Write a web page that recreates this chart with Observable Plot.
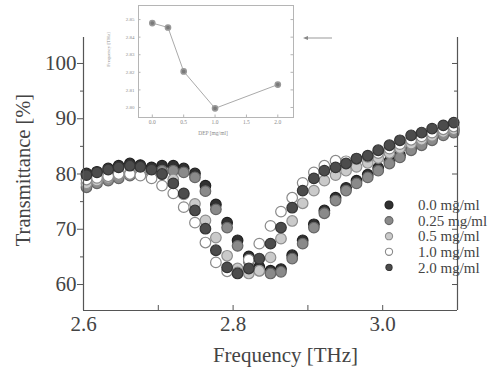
<!DOCTYPE html>
<html><head><meta charset="utf-8">
<script src="https://cdn.jsdelivr.net/npm/d3@7"></script>
<script src="https://cdn.jsdelivr.net/npm/@observablehq/plot@0.6"></script>
<style>
body{margin:0;background:#fff;}
#wrap{position:relative;width:494px;height:369px;overflow:hidden;font-family:"Liberation Serif","Times New Roman",serif;}
#wrap svg{position:absolute;}
</style></head><body><div id="wrap"></div>
<script>
// ---------- data ----------
const freq = [2.604,2.618,2.633,2.647,2.662,2.676,2.691,2.705,2.720,2.734,2.749,2.763,2.777,2.792,2.806,2.821,2.835,2.850,2.864,2.879,2.893,2.908,2.922,2.937,2.951,2.965,2.980,2.994,3.009,3.023,3.038,3.052,3.066,3.081,3.095];
const seriesLabels = ["0.0 mg/ml","0.25 mg/ml","0.5 mg/ml","1.0 mg/ml","2.0 mg/ml"];
const t00 = [80.1,80.4,81.0,81.5,81.9,81.6,81.2,81.5,81.5,81.0,80.1,77.9,74.5,71.2,68.0,65.1,63.2,62.5,62.8,65.3,68.0,70.9,73.4,75.7,77.5,78.8,79.9,81.1,82.3,83.4,84.6,85.5,86.4,87.4,88.0];
const t025 = [77.6,78.3,78.8,79.2,79.7,80.1,80.3,80.6,80.6,80.3,79.4,76.9,73.6,70.3,67.0,64.2,62.5,62.0,62.3,64.7,67.4,70.3,72.9,75.2,77.0,78.3,79.4,80.6,81.9,83.0,84.3,85.2,86.1,87.0,87.5];
const t05 = [78.3,78.8,79.3,79.8,80.2,80.4,80.4,80.0,79.0,76.3,74.6,71.6,68.5,65.2,62.9,62.0,62.5,64.9,68.3,71.5,74.7,77.0,78.8,79.8,80.6,81.3,82.0,82.9,83.8,84.7,85.5,86.2,86.9,87.6,88.1];
const t10 = [79.0,79.3,79.6,80.0,80.0,79.7,79.2,77.9,76.5,74.0,71.2,67.6,64.0,62.4,62.2,64.5,67.4,70.6,73.2,75.7,78.4,80.3,81.5,82.4,82.3,82.7,83.1,83.8,84.6,85.4,86.2,86.8,87.5,88.1,88.6];
const t20 = [79.8,80.3,80.8,81.2,81.5,81.3,80.8,80.0,78.3,76.5,73.4,70.1,66.2,63.1,62.0,62.9,64.7,67.4,70.3,73.9,77.0,79.2,80.6,81.2,81.9,82.8,83.3,84.3,85.2,86.1,87.0,87.5,88.2,88.8,89.3];
const seriesValues = [t00,t025,t05,t10,t20];

const xDomain = [2.6,3.1];
const yDomain = [55.3,104.7];
const xTicks = [2.6,2.8,3.0];
const xMinor = [2.7,2.9];
const yTicks = [60,70,80,90,100];
const yMinor = [65,75,85,95];

const depConc = [0.0,0.25,0.5,1.0,2.0];
const depFreq = [2.848,2.8455,2.8205,2.7995,2.813];
const insetXTicks = [0.0,0.5,1.0,1.5,2.0];
const insetYTicks = [2.80,2.81,2.82,2.83,2.84,2.85];
const insetXDomain = [-0.22,2.25];
const insetYDomain = [2.7943,2.858];

// ---------- styles ----------
const styles = [
  {fill:"#303030",stroke:"#1f1f1f"},
  {fill:"#8a8a8a",stroke:"#666"},
  {fill:"#cacaca",stroke:"#8e8e8e"},
  {fill:"#ffffff",stroke:"#8a8a8a"},
  {fill:"#4c4c4c",stroke:"#353535"}
];
const legendR = [4,4,3.6,3.6,3.1];
const font = "'Liberation Serif','Times New Roman',serif";

const W=494,H=369,mL=83,mR=37,mT=37,mB=59;
const fw=W-mL-mR, fh=H-mT-mB;

const dotMarks = seriesValues.map((vals,k)=>Plot.dot(freq.map((f,i)=>({f, T:vals[i]})),
  {x:"f", y:"T", r:5.3, fill:styles[k].fill, stroke:styles[k].stroke, strokeWidth:1.2}));

const main = Plot.plot({
  width:W, height:H, marginLeft:mL, marginRight:mR, marginTop:mT, marginBottom:mB,
  x:{domain:xDomain, label:null}, y:{domain:yDomain, label:null},
  style:{fontFamily:font, color:"#444", background:"transparent"},
  marks:[
    ...dotMarks,
    Plot.ruleX(xDomain, {stroke:"#555", strokeWidth:1.2}),
    Plot.ruleY([yDomain[0]], {stroke:"#555", strokeWidth:1.2}),
    Plot.axisY(yTicks, {tickSize:6, tickPadding:1, fontSize:21, stroke:"#555", fill:"#444", label:null}),
    Plot.axisY(yMinor, {tickSize:3, tickFormat:()=>"", stroke:"#555", label:null}),
    Plot.tickY(yTicks, {y:d=>d, insetLeft:fw-5, stroke:"#555"}),
    Plot.tickY(yMinor, {y:d=>d, insetLeft:fw-3, stroke:"#555"}),
    Plot.tickX(xTicks.concat(xMinor), {x:d=>d, insetTop:fh-5, stroke:"#555"}),
    Plot.axisX(xTicks, {tickSize:0, tickPadding:6, fontSize:21, fill:"#444", label:null, tickFormat:d3.format(".1f")}),
    Plot.text(["Frequency [THz]"], {frameAnchor:"bottom", dy:45, dx:15, fontSize:21, fill:"#444", textAnchor:"middle", lineAnchor:"middle"}),
    Plot.text(["Transmittance [%]"], {frameAnchor:"left", dx:-60, dy:-4, rotate:-90, fontSize:20.5, fill:"#444", textAnchor:"middle", lineAnchor:"middle"})
  ]
});
main.style.left="0px"; main.style.top="0px";
document.getElementById("wrap").appendChild(main);

// ---------- inset ----------
const IW=200, IH=140, iL=38, iR=7, iT=5, iB=23;
const iw=IW-iL-iR, ih=IH-iT-iB;
const insetData = depConc.map((c,i)=>({c, f:depFreq[i]}));
const inset = Plot.plot({
  width:IW, height:IH, marginLeft:iL, marginRight:iR, marginTop:iT, marginBottom:iB,
  x:{domain:insetXDomain, label:null}, y:{domain:insetYDomain, label:null},
  style:{fontFamily:font, color:"#888", background:"transparent"},
  marks:[
    Plot.rect([0],{x1:insetXDomain[0],x2:insetXDomain[1],y1:insetYDomain[0],y2:insetYDomain[1],fill:"#fff"}),
    Plot.frame({stroke:"#b5b5b5"}),
    Plot.tickY(insetYTicks, {y:d=>d, insetRight:iw-2.5, stroke:"#b5b5b5"}),
    Plot.tickY(insetYTicks, {y:d=>d, insetLeft:iw-2.5, stroke:"#b5b5b5"}),
    Plot.tickX(insetXTicks, {x:d=>d, insetTop:ih-2.5, stroke:"#b5b5b5"}),
    Plot.line(insetData, {x:"c", y:"f", stroke:"#aaa", strokeWidth:1}),
    Plot.dot(insetData, {x:"c", y:"f", r:2.6, fill:"#7a7a7a", stroke:"#999"}),
    Plot.axisY(insetYTicks, {tickSize:0, tickPadding:4, fontSize:5, fill:"#8a8a8a", label:null, tickFormat:d3.format(".2f")}),
    Plot.axisX(insetXTicks, {tickSize:0, tickPadding:3, fontSize:5.5, fill:"#8a8a8a", label:null, tickFormat:d3.format(".1f")}),
    Plot.text(["Frequency [THz]"], {frameAnchor:"left", dx:-30, dy:-12, rotate:-90, fontSize:5, fill:"#8a8a8a", textAnchor:"middle", lineAnchor:"middle"}),
    Plot.text(["DEP [mg/ml]"], {frameAnchor:"bottom", dy:16, dx:-3, fontSize:5.5, fill:"#8a8a8a", textAnchor:"middle", lineAnchor:"middle"})
  ]
});
inset.style.left="100px"; inset.style.top="0px";
document.getElementById("wrap").appendChild(inset);

// ---------- small arrow ----------
const arr = d3.create("svg").attr("width",40).attr("height",12).style("left","300px").style("top","32px");
arr.append("line").attr("x1",6).attr("y1",6).attr("x2",32).attr("y2",6).attr("stroke","#999").attr("stroke-width",1);
arr.append("path").attr("d","M3,6 L8,4 L8,8 Z").attr("fill","#888");
document.getElementById("wrap").appendChild(arr.node());

// ---------- legend ----------
const lg = d3.create("svg").attr("width",114).attr("height",90).style("left","380px").style("top","196px");
seriesLabels.forEach((lab,k)=>{
  const y = 9 + k*15.6;
  lg.append("circle").attr("cx",9).attr("cy",y).attr("r",legendR[k])
    .attr("fill",styles[k].fill).attr("stroke",styles[k].stroke).attr("stroke-width",1.1);
  lg.append("text").attr("x",38).attr("y",y).attr("dy","0.35em").attr("font-size",15)
    .attr("font-family",font).attr("fill","#444").text(lab);
});
document.getElementById("wrap").appendChild(lg.node());
</script>
</body></html>
